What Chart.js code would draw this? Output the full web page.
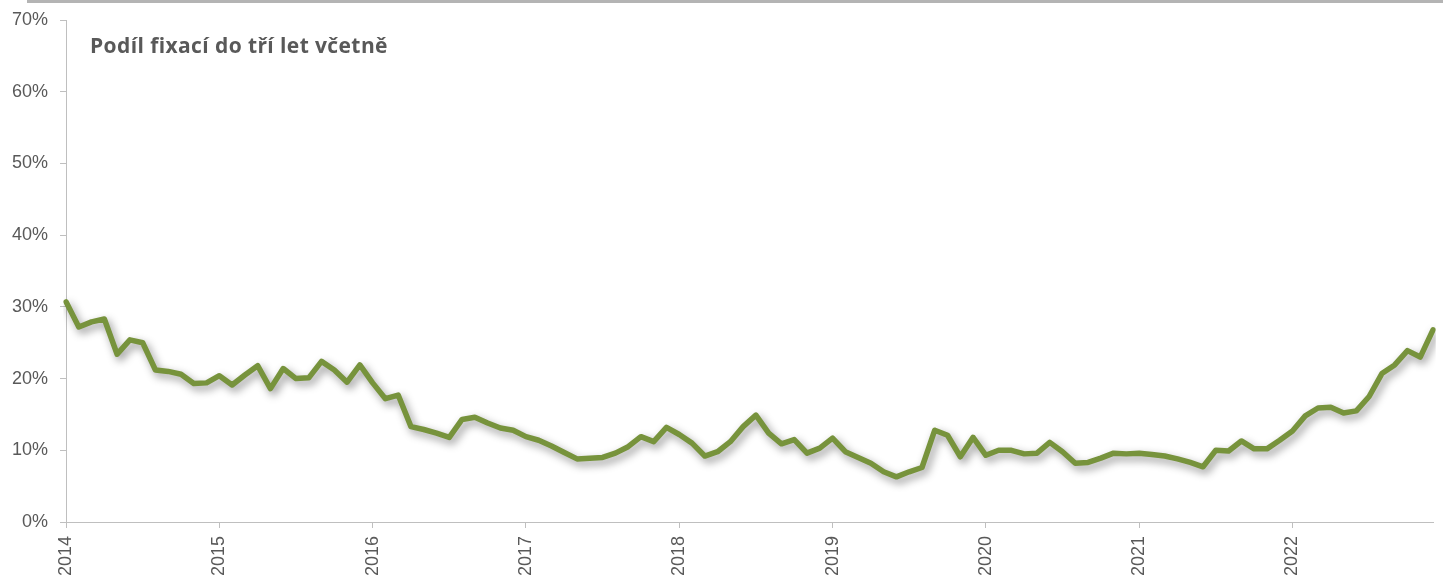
<!DOCTYPE html>
<html>
<head>
<meta charset="utf-8">
<script src="https://cdn.jsdelivr.net/npm/chart.js@4.4.0/dist/chart.umd.min.js"></script>
<style>
  html, body { margin: 0; padding: 0; background: #fff; }
  #wrap { position: relative; width: 1443px; height: 582px; }
  #topline { position: absolute; left: 27px; right: 0; top: 0; height: 3px; background: #b4b4b4; }
  #title { position: absolute; left: 90px; top: 31px; font: bold 21px "Open Sans", Lato, sans-serif; letter-spacing: 0.4px; color: #595959; }
</style>
</head>
<body>
<div id="wrap">
  <canvas id="chart" width="1443" height="582"></canvas>
  <div id="topline"></div>
  <div id="title">Podíl fixací do tří let včetně</div>
</div>
<script>
const CHART = document.getElementById("chart");

// years shown on the x axis
var years = ['2014','2015','2016','2017','2018','2019','2020','2021','2022'];

// share of fixations up to 3 years, monthly, in %
var share = [
  30.7, 27.2, 27.9, 28.3, 23.4, 25.4, 25.0, 21.2, 21.0, 20.6, 19.3, 19.4,
  20.4, 19.1, 20.5, 21.8, 18.6, 21.4, 20.0, 20.1, 22.4, 21.2, 19.5, 21.9,
  19.4, 17.2, 17.7, 13.3, 12.9, 12.4, 11.8, 14.3, 14.6, 13.8, 13.1, 12.8,
  11.9, 11.4, 10.6, 9.7, 8.8, 8.9, 9.0, 9.6, 10.5, 11.9, 11.2, 13.2,
  12.2, 11.0, 9.2, 9.8, 11.2, 13.3, 14.9, 12.4, 10.9, 11.5, 9.6, 10.3,
  11.7, 9.8, 9.0, 8.2, 7.0, 6.3, 7.0, 7.6, 12.8, 12.1, 9.1, 11.8,
  9.3, 10.0, 10.0, 9.5, 9.6, 11.1, 9.8, 8.2, 8.3, 8.9, 9.6, 9.5,
  9.6, 9.4, 9.2, 8.8, 8.3, 7.7, 10.0, 9.9, 11.3, 10.2, 10.2, 11.4,
  12.7, 14.8, 15.9, 16.0, 15.2, 15.5, 17.5, 20.7, 21.9, 23.9, 23.0, 26.8
];

var labels = [];
for (let y = 0; y < years.length; y++) {
  for (let m = 1; m <= 12; m++) {
    labels.push(years[y] + '-' + (m < 10 ? '0' + m : m));
  }
}

const shadow = {
  id: 'shadow',
  beforeDatasetDraw(chart) {
    const c = chart.ctx;
    c.save();
    c.shadowColor = 'rgba(0,0,0,0.42)';
    c.shadowBlur = 9;
    c.shadowOffsetX = 3;
    c.shadowOffsetY = 4;
  },
  afterDatasetDraw(chart) {
    chart.ctx.restore();
  }
};

const tickFont = { family: '"Liberation Sans", Arial, sans-serif', size: 18 };

const chart = new Chart(CHART, {
  type: 'line',
  plugins: [shadow],
  data: {
    labels: labels,
    datasets: [{
      data: share,
      borderColor: '#77933C',
      borderWidth: 5.5,
      borderJoinStyle: 'round',
      borderCapStyle: 'round',
      pointRadius: 0,
      tension: 0,
      fill: false
    }]
  },
  options: {
    responsive: false,
    animation: false,
    events: [],
    layout: { padding: { top: 20, right: 10, left: 0, bottom: 0 } },
    plugins: { legend: { display: false }, tooltip: { enabled: false } },
    scales: {
      x: {
        offset: false,
        afterFit: s => { s.paddingRight = 0; s.height = 60; },
        border: { color: '#bfbfbf', width: 1 },
        grid: {
          drawOnChartArea: false,
          tickLength: 6,
          tickColor: ctx => (ctx.index % 12 === 0 ? '#bfbfbf' : 'rgba(0,0,0,0)')
        },
        ticks: {
          autoSkip: false,
          minRotation: 90,
          maxRotation: 90,
          padding: 8,
          color: '#595959',
          font: tickFont,
          callback: function (v, i) { return i % 12 === 0 ? years[i / 12] : ''; }
        }
      },
      y: {
        min: 0,
        max: 70,
        afterFit: s => { s.paddingTop = 0; s.paddingBottom = 0; },
        border: { color: '#bfbfbf', width: 1 },
        grid: { drawOnChartArea: false, tickLength: 6, tickColor: '#bfbfbf' },
        ticks: {
          stepSize: 10,
          padding: 12,
          color: '#595959',
          font: tickFont,
          callback: v => v + '%'
        }
      }
    }
  }
});
</script>
</body>
</html>
